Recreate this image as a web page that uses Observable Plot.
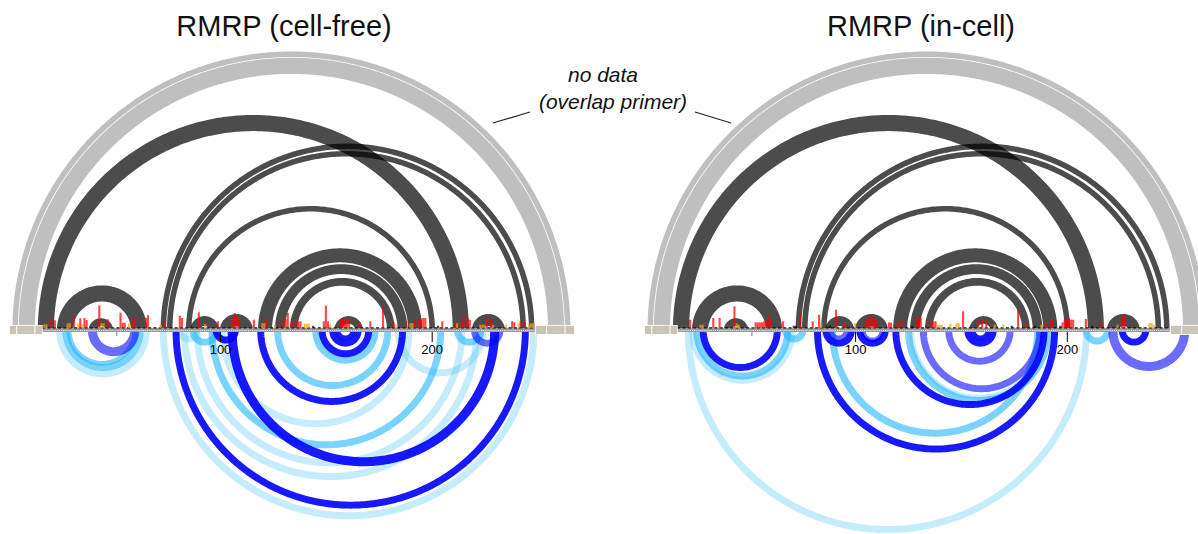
<!DOCTYPE html>
<html>
<head>
<meta charset="utf-8">
<script src="https://cdn.jsdelivr.net/npm/d3@7"></script>
<script src="https://cdn.jsdelivr.net/npm/@observablehq/plot@0.6"></script>
<style>
  body { margin: 0; background: #fff; font-family: "Liberation Sans", Arial, sans-serif; }
  #wrap { position: relative; width: 1198px; height: 534px; overflow: hidden; }
  #head { position: relative; height: 45px; }
  .title { position: absolute; top: 12px; font-size: 29px; line-height: 1; transform: translateX(-50%); white-space: nowrap; color: #111; }
  .note { position: absolute; font-style: italic; font-size: 21px; line-height: 1; white-space: nowrap; color: #111; transform: translateX(-50%); }
  #chart { position: absolute; top: 45px; left: 0; }
  #leaders { position: absolute; top: 0; left: 0; pointer-events: none; }
</style>
</head>
<body>
<div id="wrap">
  <div id="head">
    <div class="title" style="left:284px">RMRP (cell-free)</div>
    <div class="title" style="left:921px">RMRP (in-cell)</div>
  </div>
  <div id="chart"></div>
  <div class="note" style="left:603px; top:64px">no data</div>
  <div class="note" style="left:613px; top:91px">(overlap primer)</div>
  <svg id="leaders" width="1198" height="534">
    <line x1="493" y1="123" x2="530" y2="112" stroke="#222" stroke-width="1.2"/>
    <line x1="695" y1="112" x2="731" y2="123" stroke="#222" stroke-width="1.2"/>
  </svg>
</div>
<script>
// RMRP, 267 nt. Helices are [5' start, 3' end, base pairs].
const rnaLength = 267;

// Reference structure drawn above the axis (same in both panels)
const noDataHelices = [[2, 265, 3], [5, 262, 8]];
const structureHelices = [
  [14, 217, 8], [23, 65, 8], [38, 49, 4], [72, 248, 3], [75, 244, 3],
  [86, 99, 5], [100, 115, 6], [84, 201, 3],
  [118, 195, 7], [126, 188, 5], [133, 182, 4], [154, 167, 4],
  [219, 234, 6]
];

// Pairs from the data, drawn below the axis: [start, end, bp, probability class 1..4]
const cellFreePairs = [
  [23, 66, 3, 4], [26, 63, 3, 3], [28, 60, 2, 3], [38, 61, 4, 2],
  [72, 249, 3, 4], [82, 222, 3, 4], [88, 215, 3, 4], [95, 205, 3, 3], [100, 190, 3, 4],
  [80, 90, 3, 4], [86, 99, 3, 3], [126, 180, 3, 3], [144, 174, 3, 3],
  [183, 225, 3, 4], [211, 224, 3, 3], [219, 233, 3, 2],
  [78, 245, 3, 1], [104, 231, 4, 1], [118, 187, 3, 1], [97, 108, 3, 1],
  [147, 171, 3, 1], [152, 166, 3, 1], [155, 163, 2, 1]
];
const inCellPairs = [
  [20, 210, 3, 4], [22, 71, 3, 4], [24, 69, 3, 3], [66, 76, 3, 3],
  [88, 187, 3, 3], [124, 192, 3, 3], [126, 190, 2, 4], [208, 220, 3, 3],
  [131, 188, 3, 2], [143, 174, 3, 2], [220, 257, 4, 2], [88, 96, 2, 2], [103, 113, 2, 2],
  [27, 64, 3, 1], [85, 99, 3, 1], [101, 115, 3, 1], [81, 195, 3, 1], [118, 190, 3, 1],
  [152, 166, 3, 1], [155, 163, 2, 1], [225, 238, 3, 1]
];

// Reactivity profiles: nucleotide positions and values
const cellFreeNt = [17,18,20,22,28,29,31,33,34,35,36,37,43,44,45,47,53,54,55,57,59,60,65,66,72,74,81,82,90,93,99,106,107,108,109,116,120,121,122,126,130,131,132,134,136,137,138,140,141,142,144,149,150,151,152,157,158,159,160,161,166,171,177,182,183,188,190,191,192,194,195,196,197,203,205,211,212,214,215,217,218,223,224,225,226,228,229,235,238,239,241,242,244,246,247,248];
const cellFreeReact = [0.62,0.62,1.55,1.28,0.75,0.83,2.0,0.78,1.62,0.62,1.67,1.33,3.78,0.8,0.78,1.45,2.55,0.88,0.88,0.78,1.67,1.67,1.67,2.12,0.5,1.12,2.05,1.67,2.62,0.67,1.12,1.67,2.5,2.0,1.67,1.38,0.8,0.8,1.67,0.55,1.5,1.5,2.5,1.12,1.12,1.12,1.12,0.72,0.72,0.72,0.38,1.12,3.72,1.12,0.55,1.33,1.67,1.33,1.67,1.33,0.95,1.12,3.62,0.9,0.55,1.12,0.8,0.8,1.28,1.5,1.5,1.67,1.67,0.38,1.12,0.9,0.8,0.9,2.05,1.67,1.38,0.55,0.55,0.55,1.95,1.38,0.55,0.55,1.12,0.95,0.8,1.12,0.9,0.55,0.8,0.8];
const inCellNt = [22,27,28,33,36,43,44,45,53,54,55,56,57,58,59,60,66,71,72,74,80,83,84,88,91,95,100,105,106,107,108,109,110,116,117,120,122,127,129,130,131,136,137,138,139,140,141,145,148,149,151,158,160,162,166,170,174,177,181,185,188,190,192,193,197,198,199,200,201,202,203,209,212,216,224,226,227,239,240,241];
const inCellReact = [1.38,0.55,0.55,1.67,1.67,3.62,0.8,0.55,0.95,0.95,0.95,0.95,1.12,1.12,2.05,1.38,1.12,0.38,0.38,2.38,1.12,2.22,0.8,0.38,3.05,0.95,0.8,1.38,1.38,1.95,1.95,1.28,1.28,0.95,0.9,1.12,1.38,0.38,1.67,1.67,1.67,1.12,1.12,1.12,0.55,0.55,0.55,0.72,0.8,0.8,2.78,1.38,1.38,1.5,0.55,0.55,0.38,3.05,0.9,0.38,0.55,0.9,0.95,1.5,0.38,0.95,1.38,1.67,1.67,1.38,1.38,1.5,0.38,0.95,0.55,1.95,2.22,0.8,0.8,0.55];

// Primer regions without data, and axis ticks
const noDataRanges = [[0.5, 4], [4, 12.6], [12.6, 16], [249, 254.3], [254.3, 263], [263, 267.5]];
const tickValues = [100, 200];
const markerNt = [51];

// ---- layout ----
const W = 1198, H = 489;
const pxPerNt = 2.117;          // same scale along both axes, so arcs stay circular
const originPx = 8.3;           // pixel of nucleotide 0 in the left panel
const axisPx = 285;             // pixel row of the sequence axis
const panelShift = 300;         // right panel sits 300 nt further along x
const barPx = 6;                // pixels per reactivity unit

const toY = (px) => px / pxPerNt;

const pairColors = {
  1: {stroke: "#0000ff", opacity: 0.9},
  2: {stroke: "#0000ff", opacity: 0.58},
  3: {stroke: "#22b4ff", opacity: 0.6},
  4: {stroke: "#55c8f5", opacity: 0.35}
};

function arcPoints([i, j, n], side, shift) {
  const a = i + (n - 1) / 2, b = j - (n - 1) / 2;
  const c = (a + b) / 2 + shift, r = (b - a) / 2;
  const steps = Math.max(30, Math.ceil(r * 3));
  const pts = [];
  for (let k = 0; k <= steps; k++) {
    const t = Math.PI * (1 - k / steps);
    pts.push({x: c + r * Math.cos(t), y: side * r * Math.sin(t)});
  }
  return pts;
}

function arcMark(h, side, shift, stroke, opacity, trim) {
  return Plot.line(arcPoints(h, side, shift), {
    x: "x", y: "y", stroke, strokeOpacity: opacity,
    strokeWidth: Math.max(1, h[2] * pxPerNt - trim), curve: "linear", strokeLinecap: "butt"
  });
}

function panelMarks(shift, pairs, ntList, reactList) {
  const marks = [];
  // lower arcs, light classes first
  [...pairs].sort((p, q) => q[3] - p[3]).forEach(p => {
    const c = pairColors[p[3]];
    marks.push(arcMark(p, -1, shift, c.stroke, c.opacity, -0.6));
  });
  // upper arcs (a hairline is left between neighbouring helices)
  noDataHelices.forEach(h => marks.push(arcMark(h, 1, shift, "#000", 0.25, 0.8)));
  structureHelices.forEach(h => marks.push(arcMark(h, 1, shift, "#000", 0.7, 0.8)));

  // sequence axis
  marks.push(Plot.rect([[16, 249]], {
    x1: d => d[0] + shift, x2: d => d[1] + shift, y1: toY(-2), y2: toY(2), fill: "#9c9c9c"
  }));
  marks.push(Plot.ruleY([0], {
    x1: 16 + shift, x2: 249 + shift, stroke: "#e6e6e6", strokeWidth: 1, strokeDasharray: "1,1.1"
  }));
  marks.push(Plot.ruleY([toY(2.6)], {
    x1: 16 + shift, x2: 249 + shift, stroke: "#111", strokeWidth: 1.2, strokeDasharray: "3,2.3"
  }));
  marks.push(Plot.rect(noDataRanges, {
    x1: d => d[0] + shift, x2: d => d[1] + shift, y1: toY(-4.5), y2: toY(4.5),
    fill: "#c9c4b3", stroke: "#fff", strokeWidth: 0.8
  }));

  // reactivity bars
  const bars = ntList.map((nt, k) => ({nt, v: reactList[k]}));
  marks.push(Plot.rect(bars, {
    x1: d => d.nt - 0.5 + shift, x2: d => d.nt + 0.5 + shift,
    y1: toY(2), y2: d => toY(2 + d.v * barPx),
    fill: d => d.v >= 0.85 ? "#ff0000" : d.v >= 0.4 ? "#ffa200" : "#000",
    fillOpacity: 0.72
  }));

  // ticks and labels
  marks.push(Plot.ruleX(tickValues, {x: d => d + shift, y1: toY(-2), y2: toY(-12), stroke: "#000", strokeWidth: 1}));
  marks.push(Plot.text(tickValues, {
    x: d => d + shift, y: toY(-19), text: d => String(d),
    fontSize: 13, fill: "#000", fontFamily: "Liberation Sans, Arial, sans-serif"
  }));
  marks.push(Plot.ruleX(markerNt, {x: d => d + shift, y1: toY(1), y2: toY(-6), stroke: "#a8a8a8", strokeWidth: 1.5}));
  return marks;
}

const chart = Plot.plot({
  width: W, height: H, margin: 0,
  x: {domain: [-originPx / pxPerNt, (W - originPx) / pxPerNt], axis: null},
  y: {domain: [-(H - axisPx) / pxPerNt, axisPx / pxPerNt], axis: null},
  style: {background: "transparent", overflow: "visible"},
  marks: [
    ...panelMarks(0, cellFreePairs, cellFreeNt, cellFreeReact),
    ...panelMarks(panelShift, inCellPairs, inCellNt, inCellReact)
  ]
});
document.getElementById("chart").appendChild(chart);
</script>
</body>
</html>
